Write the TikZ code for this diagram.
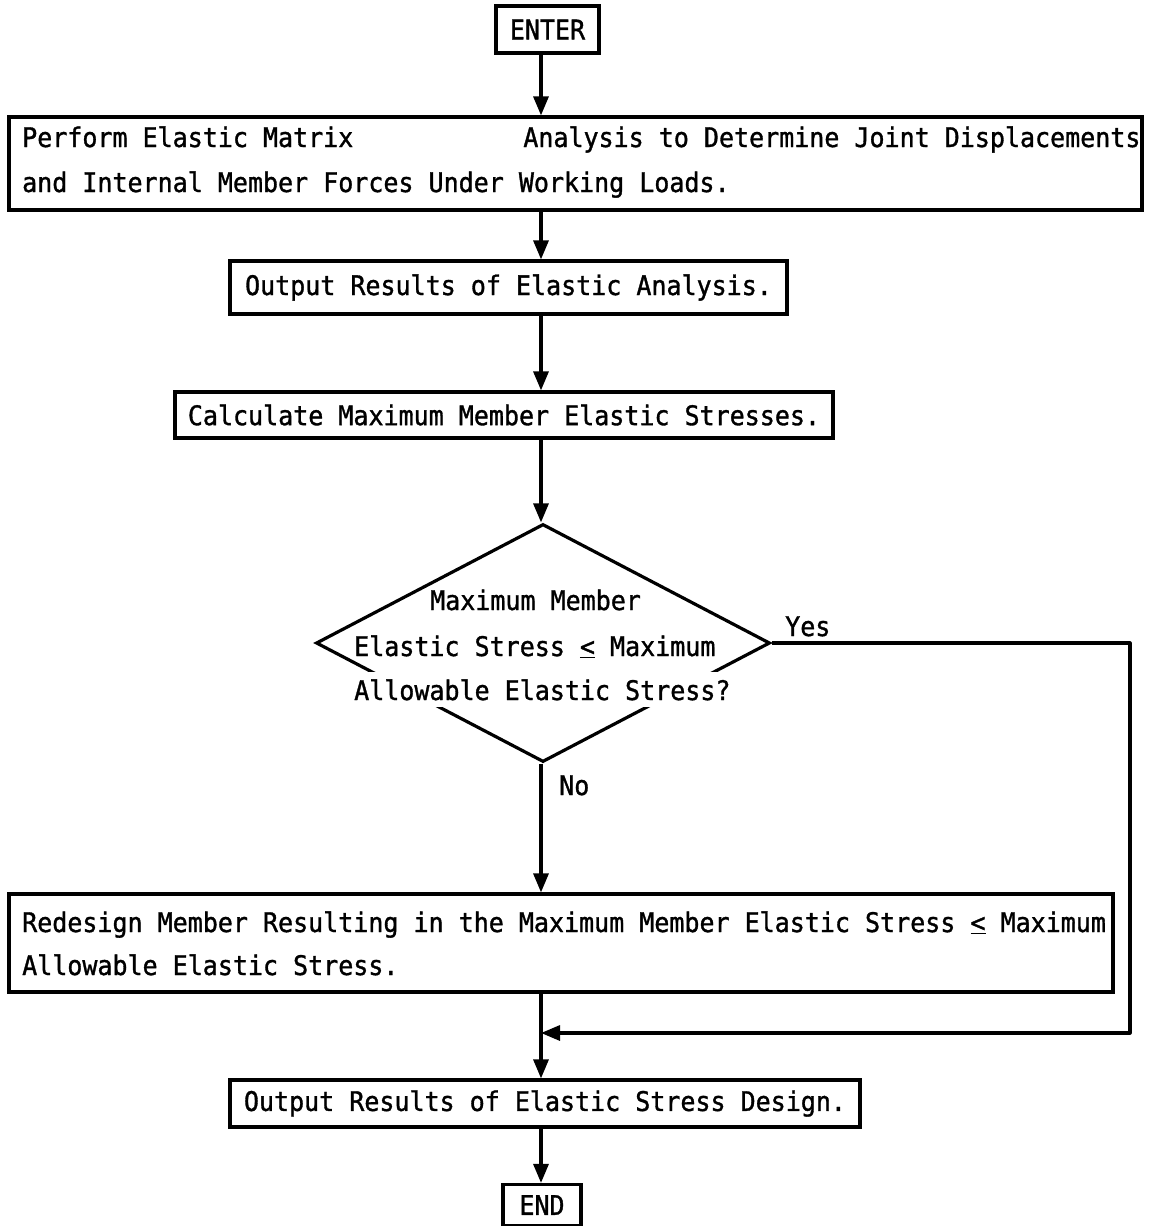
\documentclass[tikz,border=0pt]{standalone}
\usepackage{fontspec}
\newfontfamily\lp{DejaVu Sans Mono}[FakeStretch=0.926,FakeBold=1.2]
\usetikzlibrary{arrows.meta,shapes.geometric}
\begin{document}
\begin{tikzpicture}[x=1pt,y=-1pt,
  every node/.style={font=\lp\fontsize{27}{32}\selectfont},
  box/.style={draw, line width=3.2pt, rectangle, inner sep=0pt},
  dec/.style={draw, line width=3.2pt, diamond, inner sep=0pt},
  txt/.style={inner sep=0pt, anchor=base west},
  cut/.style={fill=white, inner xsep=3pt, inner ysep=7pt, anchor=base west},
  flow/.style={line width=3.2pt, -{Triangle[length=19pt,width=15pt]}},
  line/.style={line width=3.2pt}]
\useasboundingbox (0,0) rectangle (1152,1226);
\coordinate (spine) at (541,0);
% boxes
\node[box, minimum width=103pt, minimum height=47pt] (enter) at (547.5,29.5) {ENTER};
\node[box, minimum width=1133pt, minimum height=93pt] (perform) at (575.5,163.5) {};
\node[txt] (p1) at (22,147) {Perform Elastic Matrix\hspace{170pt}Analysis to Determine Joint Displacements};
\node[txt] (p2) at (22,192) {and Internal Member Forces Under Working Loads.};
\node[box, minimum width=557pt, minimum height=53pt] (out1) at (508.5,287.5) {Output Results of Elastic Analysis.};
\node[box, minimum width=658pt, minimum height=46pt] (calc) at (504,415) {Calculate Maximum Member Elastic Stresses.};
\node[dec, minimum width=454pt, minimum height=238pt] (dia) at (543,643) {};
\node[txt] (d1) at (430,610) {Maximum Member};
\node[txt] (d2) at (354,656) {Elastic Stress \underline{<} Maximum};
\node[cut] (d3) at (351,700) {Allowable Elastic Stress?};
\node[txt] (yes) at (785,636) {Yes};
\node[txt] (no) at (559,795) {No};
\node[box, minimum width=1104pt, minimum height=98pt] (redes) at (561,943) {};
\node[txt] (r1) at (22,932) {Redesign Member Resulting in the Maximum Member Elastic Stress \underline{<} Maximum};
\node[txt] (r2) at (22,975) {Allowable Elastic Stress.};
\node[box, minimum width=630pt, minimum height=47pt] (out2) at (545,1103.5) {Output Results of Elastic Stress Design.};
\node[box, minimum width=78pt, minimum height=41pt] (end) at (542,1205) {END};
% connectors
\draw[flow] (enter.south -| spine) -- (perform.north -| spine);
\draw[flow] (perform.south -| spine) -- (out1.north -| spine);
\draw[flow] (out1.south -| spine) -- (calc.north -| spine);
\draw[flow] (calc.south -| spine) -- (dia.north -| spine);
\draw[flow] (dia.south -| spine) -- (redes.north -| spine);
\draw[flow] (redes.south -| spine) -- (out2.north -| spine);
\draw[flow] (out2.south -| spine) -- (end.north -| spine);
\coordinate (corner) at (1130,1033);
\coordinate (merge) at (541,1033);
\draw[line, line join=round] (dia.east) -| (corner) -- ++(-10,0);
\draw[flow] (corner) -- (merge);
\end{tikzpicture}
\end{document}
